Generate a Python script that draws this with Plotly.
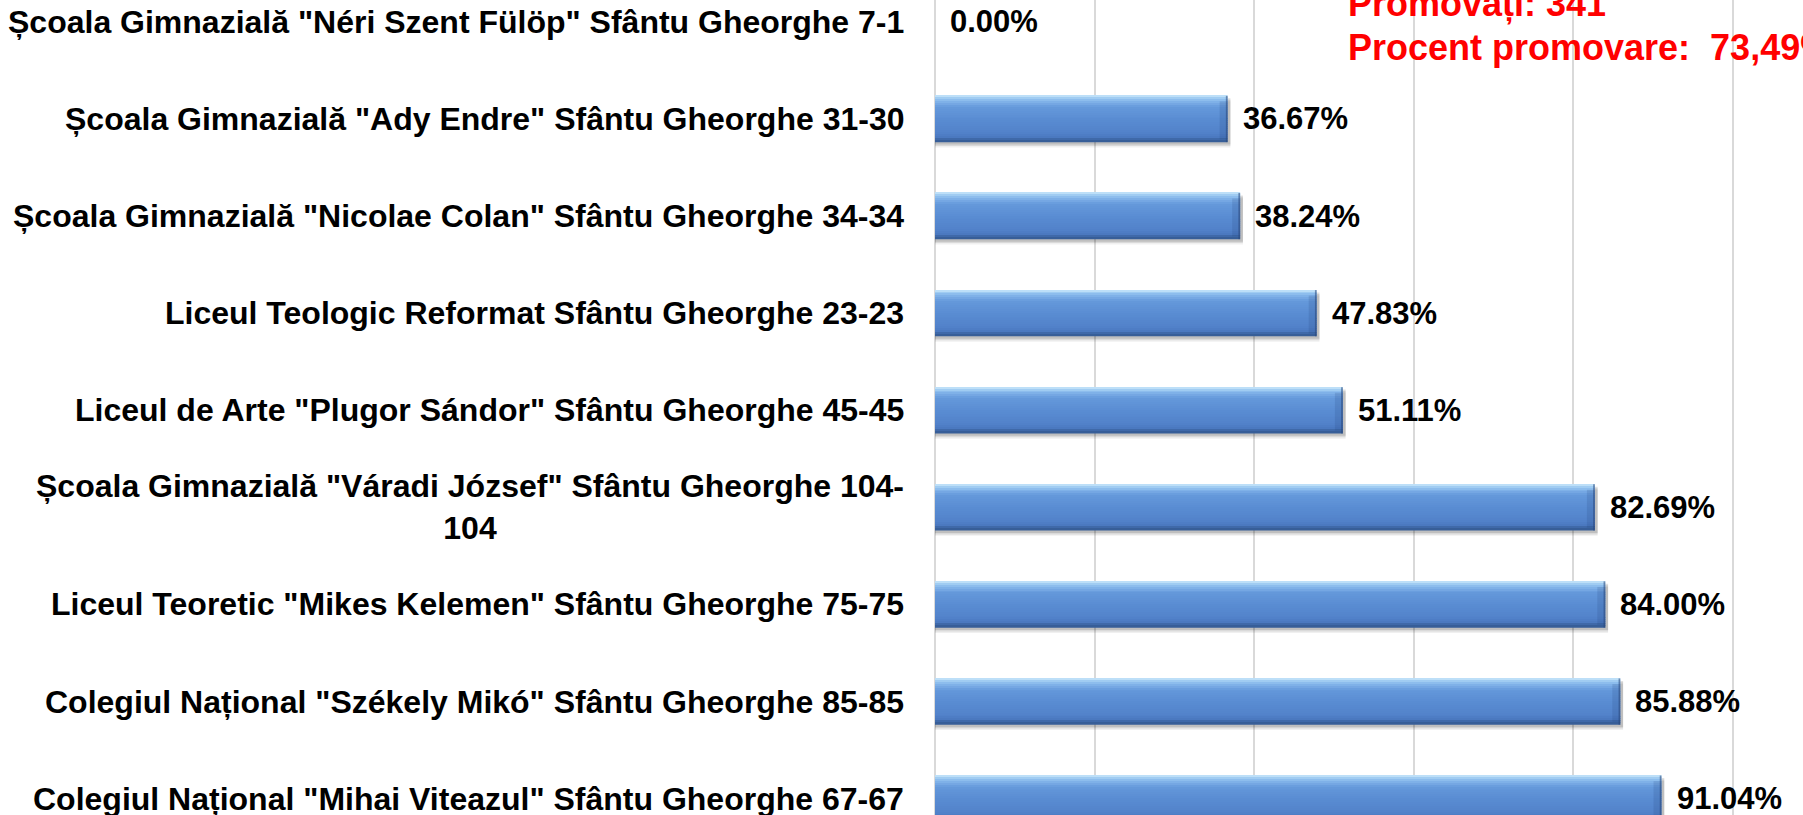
import plotly.graph_objects as go

schools = [
    'Școala Gimnazială "Néri Szent Fülöp" Sfântu Gheorghe 7-1',
    'Școala Gimnazială "Ady Endre" Sfântu Gheorghe 31-30',
    'Școala Gimnazială "Nicolae Colan" Sfântu Gheorghe 34-34',
    'Liceul Teologic Reformat Sfântu Gheorghe 23-23',
    'Liceul de Arte "Plugor Sándor" Sfântu Gheorghe 45-45',
    'Școala Gimnazială "Váradi József" Sfântu Gheorghe 104-104',
    'Liceul Teoretic "Mikes Kelemen" Sfântu Gheorghe 75-75',
    'Colegiul Național "Székely Mikó" Sfântu Gheorghe 85-85',
    'Colegiul Național "Mihai Viteazul" Sfântu Gheorghe 67-67',
]
labels = [
    'Școala Gimnazială "Néri Szent Fülöp" Sfântu Gheorghe 7-1',
    'Școala Gimnazială "Ady Endre" Sfântu Gheorghe 31-30',
    'Școala Gimnazială "Nicolae Colan" Sfântu Gheorghe 34-34',
    'Liceul Teologic Reformat Sfântu Gheorghe 23-23',
    'Liceul de Arte "Plugor Sándor" Sfântu Gheorghe 45-45',
    'Școala Gimnazială "Váradi József" Sfântu Gheorghe 104-<br>104',
    'Liceul Teoretic "Mikes Kelemen" Sfântu Gheorghe 75-75',
    'Colegiul Național "Székely Mikó" Sfântu Gheorghe 85-85',
    'Colegiul Național "Mihai Viteazul" Sfântu Gheorghe 67-67',
]
pass_rate = [0.00, 36.67, 38.24, 47.83, 51.11, 82.69, 84.00, 85.88, 91.04]
summary_lines = ["Promovați: 341", "Procent promovare:  73,49%"]
x_ticks = [0, 20, 40, 60, 80, 100, 120]

FONT = "Liberation Sans, Arial, sans-serif"
BW = 0.476


def hex2rgb(h):
    h = h.lstrip("#")
    return tuple(int(h[i:i + 2], 16) for i in (0, 2, 4))


def lerp(c1, c2, t):
    a, b = hex2rgb(c1), hex2rgb(c2)
    return "rgb(%d,%d,%d)" % tuple(round(a[i] + (b[i] - a[i]) * t) for i in range(3))


# gradient stops (fraction from top of bar, colour)
stops = [(0.00, "#CDE9FB"), (0.05, "#A6D0F4"), (0.12, "#86B7EB"), (0.25, "#6599DB"),
         (0.50, "#5A8DD3"), (0.80, "#5282CA"), (0.90, "#4B79C0"), (0.94, "#3E68A8"),
         (1.00, "#33598F")]

fig = go.Figure()

# soft shadow below bar
for dy, alpha in [(0.055, 0.06), (0.04, 0.09), (0.025, 0.12)]:
    fig.add_trace(go.Bar(
        y=schools, x=[v + 0.35 if v > 0 else 0 for v in pass_rate], orientation="h",
        width=BW, offset=-BW / 2 + dy,
        marker=dict(color=f"rgba(0,0,0,{alpha})", line=dict(width=0)),
        hoverinfo="skip", showlegend=False))

NB = 24
for k in range(NB):
    a, b = k / NB, (k + 1) / NB
    m = (a + b) / 2
    for j in range(len(stops) - 1):
        if stops[j][0] <= m <= stops[j + 1][0]:
            t = (m - stops[j][0]) / (stops[j + 1][0] - stops[j][0])
            col = lerp(stops[j][1], stops[j + 1][1], t)
            break
    fig.add_trace(go.Bar(
        y=schools, x=pass_rate, orientation="h",
        width=BW * (b - a) * 1.02, offset=-BW / 2 + BW * a,
        marker=dict(color=col, line=dict(width=0)),
        hoverinfo="skip", showlegend=False))

# right-end bevel
bev = [min(1.0, v) for v in pass_rate]
fig.add_trace(go.Bar(
    y=schools, x=bev, base=[v - b for v, b in zip(pass_rate, bev)], orientation="h",
    width=BW * 0.82, offset=-BW / 2 + BW * 0.12,
    marker=dict(color="rgba(30,60,120,0.16)", line=dict(width=0)),
    hoverinfo="skip", showlegend=False))
edge = [min(0.22, v) for v in pass_rate]
fig.add_trace(go.Bar(
    y=schools, x=edge, base=[v - e for v, e in zip(pass_rate, edge)], orientation="h",
    width=BW, offset=-BW / 2,
    marker=dict(color="rgba(40,70,120,0.55)", line=dict(width=0)),
    hoverinfo="skip", showlegend=False))

# value labels
for s, v in zip(schools, pass_rate):
    fig.add_annotation(x=v, y=s, xref="x", yref="y", text=f"<b>{v:.2f}%</b>",
                       showarrow=False, xanchor="left", yanchor="middle", xshift=13,
                       font=dict(family=FONT, size=31, color="#000000"))

# category labels
for s, lab in zip(schools, labels):
    fig.add_annotation(x=0, y=s, xref="x", yref="y", text=f"<b>{lab}</b>",
                       showarrow=False, xanchor="right", yanchor="middle", xshift=-29,
                       align="center",
                       font=dict(family=FONT, size=32, color="#000000"))

# red summary text
fig.add_annotation(x=0.4735, y=0.9945, xref="paper", yref="paper",
                   text=f"<b>{summary_lines[0]}</b>", showarrow=False,
                   xanchor="left", yanchor="middle",
                   font=dict(family=FONT, size=36, color="#FF0000"))
fig.add_annotation(x=0.4735, y=0.9417, xref="paper", yref="paper",
                   text=f"<b>{summary_lines[1]}</b>", showarrow=False,
                   xanchor="left", yanchor="middle",
                   font=dict(family=FONT, size=36, color="#FF0000"))

fig.update_layout(
    width=1803, height=815,
    margin=dict(l=935, r=0, t=0, b=0),
    barmode="overlay",
    plot_bgcolor="white", paper_bgcolor="white",
    font=dict(family=FONT, size=30, color="black"),
    xaxis=dict(range=[0, (1803 - 935) / 7.98], tickvals=x_ticks, showticklabels=False,
               showgrid=True, gridcolor="#D9D9D9", gridwidth=1.5,
               zeroline=True, zerolinecolor="#D9D9D9", zerolinewidth=1.5,
               showline=False, ticks=""),
    yaxis=dict(categoryorder="array", categoryarray=schools,
               range=[8.168, -0.2255], showticklabels=False, showgrid=False,
               zeroline=False, showline=False, ticks=""),
)

fig.write_html("out.html", config={"displayModeBar": False},
               post_script="document.body.style.margin='0';document.body.style.overflow='hidden';")
